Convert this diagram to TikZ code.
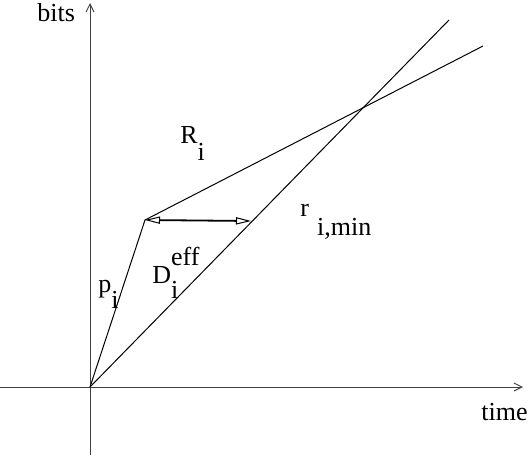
\documentclass[tikz,border=0pt]{standalone}
\usepackage{fontspec}
\setmainfont{Liberation Serif}
\usetikzlibrary{arrows.meta}

\newcommand{\lowtxt}[2][8pt]{\raisebox{-#1}{#2}}

\begin{document}
\begin{tikzpicture}[x=0.5pt,y=-0.5pt,
  axis/.style={draw=black!75,line width=0.5pt,-{Straight Barb[length=4pt,width=4pt]}},
  rate/.style={draw=black,line width=0.5pt},
  gap/.style={draw=black,line width=0.9pt,
    {Triangle[open,length=7.5pt,width=3.6pt,line width=0.5pt]}-{Triangle[open,length=7.5pt,width=3.6pt,line width=0.5pt]}},
  lbl/.style={anchor=base west,inner sep=0pt,font=\fontsize{13pt}{15pt}\selectfont}]
\path[use as bounding box] (0,0) rectangle (528,461);

% axes
\coordinate (O) at (90,387);
\coordinate (ybot) at (90,455);
\coordinate (ytop) at (90,3);
\coordinate (xleft) at (0,387);
\coordinate (xright) at (523,387);
\draw[axis] (ybot) -- (ytop);
\draw[axis] (xleft) -- (xright);

% rate curves
\coordinate (K) at (145,220);
\coordinate (Rend) at (483,46);
\coordinate (Dend) at (449,20);
\coordinate (G) at (251,221);
\draw[rate] (O) -- (K) -- (Rend);
\draw[rate] (O) -- (Dend);
\draw[gap] (K) -- (G);

% labels
\node[lbl] (bits) at (37,21) {bits};
\node[lbl] (time) at (481,420) {time};
\node[lbl] (Rlab) at (180,143) {R\lowtxt[8.5pt]{i}};
\node[lbl] (rlab) at (300,216) {r\hspace{4pt}\lowtxt[9.5pt]{i,min}};
\node[lbl] (plab) at (98,292) {p\lowtxt[8pt]{i}};
\node[lbl] (Dlab) at (152,283) {D\rlap{\lowtxt[7.5pt]{i}}\raisebox{9pt}{eff}};
\end{tikzpicture}
\end{document}
